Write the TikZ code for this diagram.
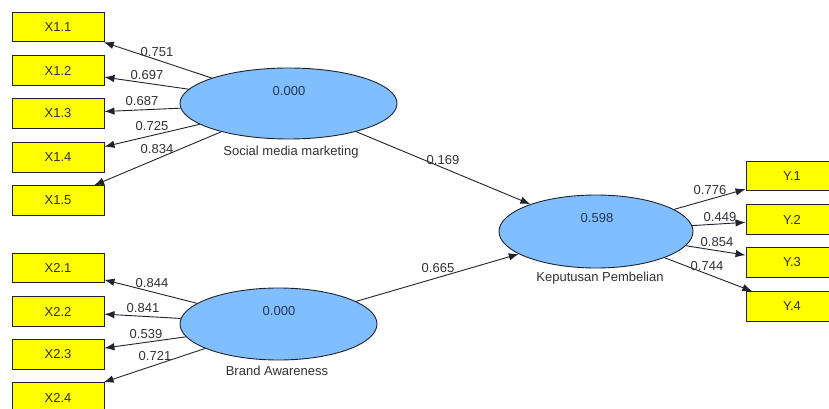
\documentclass[tikz,border=0pt]{standalone}
\usepackage{fontspec}
\setmainfont{Liberation Sans}
\usetikzlibrary{shapes.geometric,arrows.meta}
\definecolor{lvfill}{RGB}{128,190,255}
\definecolor{lvline}{RGB}{30,35,45}
\definecolor{boxyel}{RGB}{255,255,0}
\definecolor{txt}{RGB}{50,50,50}
\definecolor{valtxt}{RGB}{35,55,85}
\begin{document}
\begin{tikzpicture}[x=1pt,y=-1pt,
  every node/.style={font=\fontsize{13}{15}\selectfont},
  indbox/.style={draw=lvline,line width=0.9pt,fill=boxyel,rectangle,minimum width=92pt,minimum height=29.5pt,inner sep=0pt,text=txt},
  latent/.style={draw=lvline,line width=0.9pt,fill=lvfill,ellipse,inner sep=0pt},
  valtext/.style={text=valtxt,inner sep=0pt},
  nametext/.style={text=txt,inner sep=0pt},
  coef/.style={text=txt,inner sep=0pt},
  arr/.style={draw=lvline,line width=0.9pt,-{Latex[length=10pt,width=7.5pt]}}]
\useasboundingbox (0,0) rectangle (829,409);
\clip (0,0) rectangle (829,409);
\fill[white] (0,0) rectangle (829,409);

% indicator boxes
\node[indbox] (x11) at (58,27) {X1.1};
\node[indbox] (x12) at (58,70.5) {X1.2};
\node[indbox] (x13) at (58,113.5) {X1.3};
\node[indbox] (x14) at (58,157.5) {X1.4};
\node[indbox] (x15) at (58,200.5) {X1.5};
\node[indbox] (x21) at (58,268) {X2.1};
\node[indbox] (x22) at (58,311.5) {X2.2};
\node[indbox] (x23) at (58,354.5) {X2.3};
\node[indbox] (x24) at (58,397.5) {X2.4};
\node[indbox] (y1) at (792,176) {Y.1};
\node[indbox] (y2) at (792,219.5) {Y.2};
\node[indbox] (y3) at (792,262.5) {Y.3};
\node[indbox] (y4) at (792,306.5) {Y.4};

% latent variables
\node[latent,minimum width=217pt,minimum height=71pt] (smm) at (288.5,103.5) {};
\node[latent,minimum width=197pt,minimum height=72pt] (ba) at (278.5,324) {};
\node[latent,minimum width=194pt,minimum height=73pt] (kp) at (596,231.5) {};
\node[valtext] (smmv) at (289,91) {0.000};
\node[valtext] (bav) at (279,311) {0.000};
\node[valtext] (kpv) at (597,218) {0.598};
\node[nametext] (smmn) at (291,152) {Social media marketing};
\node[nametext] (ban) at (277,371) {Brand Awareness};
\node[nametext] (kpn) at (600,278) {Keputusan Pembelian};

% outer loadings
\draw[arr] (smm) -- (x11);
\draw[arr] (smm) -- (x12);
\draw[arr] (smm) -- (x13);
\draw[arr] (smm) -- (x14);
\draw[arr] (smm) -- (x15);
\draw[arr] (ba) -- (x21);
\draw[arr] (ba) -- (x22);
\draw[arr] (ba) -- (x23);
\draw[arr] (ba) -- (x24);
\draw[arr] (kp) -- (y1);
\draw[arr] (kp) -- (y2);
\draw[arr] (kp) -- (y3);
\draw[arr] (kp) -- (y4);
% path coefficients
\draw[arr] (smm) -- (kp);
\draw[arr] (ba) -- (kp);

% coefficient labels
\node[coef] (l11) at (157,52) {0.751};
\node[coef] (l12) at (147,75) {0.697};
\node[coef] (l13) at (142,101) {0.687};
\node[coef] (l14) at (152,126) {0.725};
\node[coef] (l15) at (157,149) {0.834};
\node[coef] (l21) at (152,283) {0.844};
\node[coef] (l22) at (143,308) {0.841};
\node[coef] (l23) at (146,334) {0.539};
\node[coef] (l24) at (155,356) {0.721};
\node[coef] (ly1) at (710,190) {0.776};
\node[coef] (ly2) at (720,217) {0.449};
\node[coef] (ly3) at (717,242) {0.854};
\node[coef] (ly4) at (707,266) {0.744};
\node[coef] (lp1) at (443,160) {0.169};
\node[coef] (lp2) at (438,268) {0.665};
\end{tikzpicture}
\end{document}
